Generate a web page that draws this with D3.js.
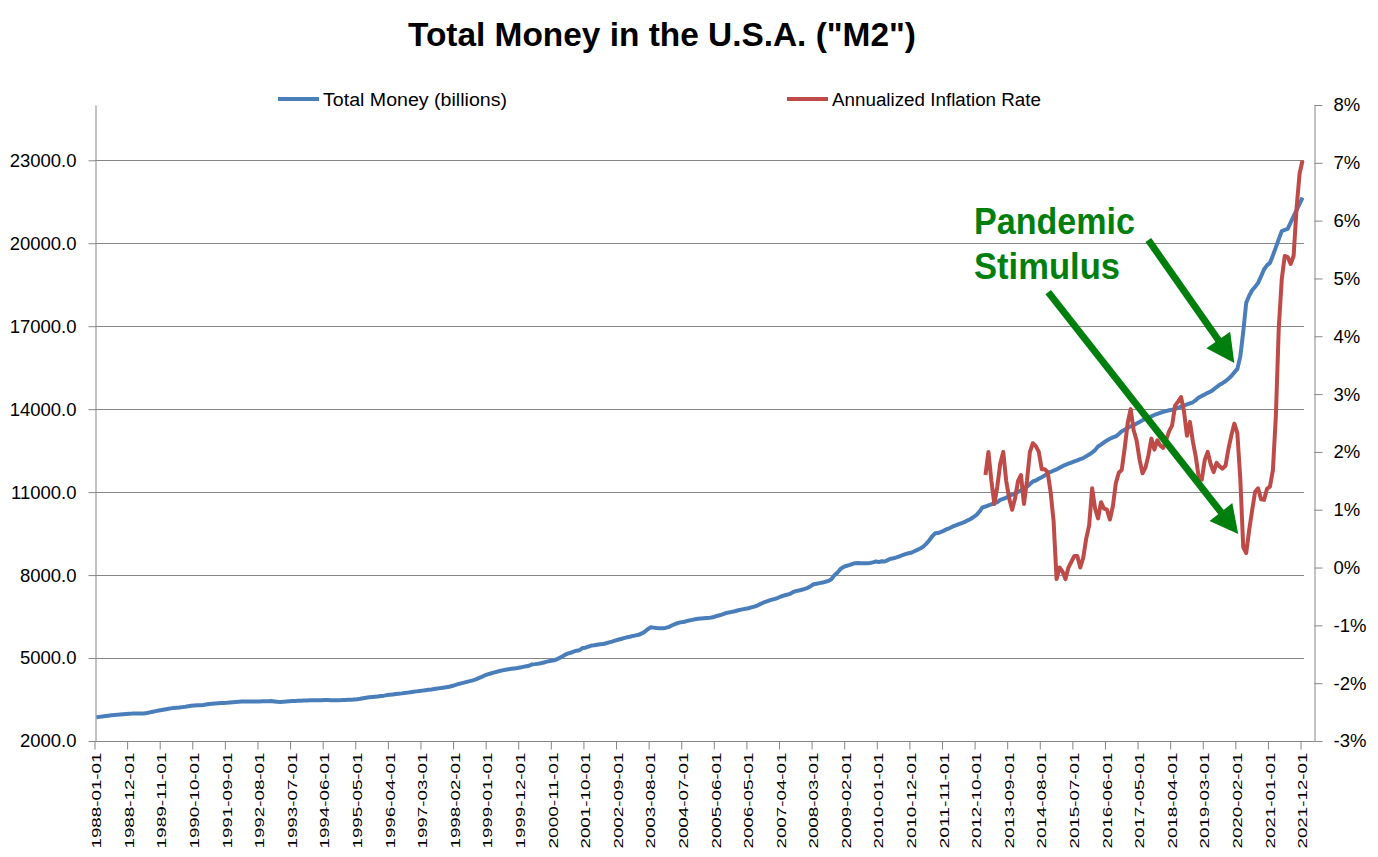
<!DOCTYPE html>
<html>
<head>
<meta charset="utf-8">
<script src="https://cdn.jsdelivr.net/npm/d3@7"></script>
<style>
  body { margin: 0; background: #fff; }
  text { font-family: "Liberation Sans", Arial, sans-serif; fill: #000; }
</style>
</head>
<body>
<div id="chart"></div>
<script>
// monthly categories run from startMonth up to (not incl.) endMonth
var startMonth = "1988-01-01",
    endMonth = "2022-01-01";

var tickLabels = [
  "1988-01-01", "1988-12-01", "1989-11-01", "1990-10-01", "1991-09-01", "1992-08-01",
  "1993-07-01", "1994-06-01", "1995-05-01", "1996-04-01", "1997-03-01", "1998-02-01",
  "1999-01-01", "1999-12-01", "2000-11-01", "2001-10-01", "2002-09-01", "2003-08-01",
  "2004-07-01", "2005-06-01", "2006-05-01", "2007-04-01", "2008-03-01", "2009-02-01",
  "2010-01-01", "2010-12-01", "2011-11-01", "2012-10-01", "2013-09-01", "2014-08-01",
  "2015-07-01", "2016-06-01", "2017-05-01", "2018-04-01", "2019-03-01", "2020-02-01",
  "2021-01-01", "2021-12-01"
];

var moneyTicks = [2000, 5000, 8000, 11000, 14000, 17000, 20000, 23000];
var rateTicks = [-0.03, -0.02, -0.01, 0, 0.01, 0.02, 0.03, 0.04, 0.05, 0.06, 0.07, 0.08];

// Total Money (billions), one row per year, Jan..Dec
var m2 = [
  2858, 2872, 2888, 2902, 2915, 2928, 2940, 2950, 2958, 2966, 2975, 2985,  // 1988
  2990, 2990, 2992, 2995, 2998, 3010, 3035, 3060, 3080, 3100, 3120, 3140,  // 1989
  3160, 3180, 3195, 3205, 3210, 3225, 3240, 3260, 3275, 3285, 3290, 3295,  // 1990
  3305, 3320, 3340, 3350, 3360, 3365, 3372, 3378, 3385, 3395, 3405, 3412,  // 1991
  3420, 3425, 3428, 3430, 3430, 3428, 3430, 3432, 3438, 3440, 3442, 3444,  // 1992
  3430, 3418, 3410, 3415, 3432, 3440, 3445, 3450, 3455, 3460, 3465, 3468,  // 1993
  3470, 3472, 3474, 3476, 3478, 3485, 3482, 3476, 3472, 3474, 3478, 3482,  // 1994
  3486, 3490, 3495, 3502, 3510, 3525, 3545, 3565, 3580, 3590, 3600, 3612,  // 1995
  3625, 3640, 3660, 3672, 3685, 3700, 3712, 3722, 3735, 3750, 3765, 3780,  // 1996
  3795, 3808, 3822, 3838, 3850, 3862, 3878, 3895, 3912, 3928, 3945, 3962,  // 1997
  3990, 4020, 4055, 4085, 4110, 4140, 4165, 4195, 4230, 4275, 4320, 4370,  // 1998
  4410, 4440, 4470, 4500, 4530, 4555, 4575, 4595, 4610, 4625, 4640, 4660,  // 1999
  4680, 4700, 4720, 4770, 4780, 4795, 4815, 4840, 4870, 4890, 4910, 4940,  // 2000
  4990, 5040, 5110, 5160, 5190, 5230, 5265, 5285, 5360, 5375, 5415, 5450,  // 2001
  5460, 5480, 5500, 5505, 5535, 5565, 5595, 5630, 5660, 5690, 5720, 5750,  // 2002
  5770, 5800, 5820, 5840, 5890, 5950, 6040, 6110, 6100, 6085, 6080, 6075,  // 2003
  6090, 6120, 6170, 6220, 6260, 6290, 6300, 6330, 6360, 6380, 6400, 6420,  // 2004
  6430, 6440, 6450, 6460, 6475, 6510, 6540, 6570, 6610, 6640, 6660, 6680,  // 2005
  6710, 6740, 6760, 6780, 6800, 6830, 6860, 6900, 6950, 7000, 7040, 7080,  // 2006
  7110, 7140, 7180, 7225, 7260, 7290, 7320, 7380, 7420, 7440, 7470, 7500,  // 2007
  7540, 7600, 7670, 7690, 7710, 7730, 7760, 7790, 7850, 7990, 8080, 8215,  // 2008
  8290, 8330, 8360, 8400, 8430, 8440, 8430, 8425, 8430, 8440, 8460, 8490,  // 2009
  8470, 8500, 8490, 8540, 8590, 8610, 8640, 8680, 8720, 8760, 8790, 8810,  // 2010
  8860, 8910, 8960, 9030, 9130, 9250, 9400, 9510, 9520, 9560, 9610, 9660,  // 2011
  9700, 9760, 9800, 9840, 9880, 9920, 9980, 10030, 10100, 10180, 10300, 10450,  // 2012
  10480, 10520, 10560, 10600, 10640, 10720, 10760, 10800, 10850, 10910, 10960, 11010,  // 2013
  11060, 11130, 11200, 11290, 11385, 11420, 11480, 11540, 11600, 11690, 11730, 11780,  // 2014
  11820, 11880, 11940, 11990, 12030, 12070, 12110, 12150, 12190, 12230, 12300, 12360,  // 2015
  12430, 12520, 12650, 12720, 12800, 12870, 12930, 12980, 13020, 13100, 13200, 13260,  // 2016
  13320, 13380, 13420, 13480, 13540, 13600, 13650, 13700, 13740, 13790, 13830, 13870,  // 2017
  13900, 13930, 13960, 13980, 14010, 14050, 14090, 14130, 14170, 14210, 14250, 14330,  // 2018
  14420, 14480, 14530, 14590, 14640, 14710, 14800, 14880, 14940, 15010, 15100, 15200,  // 2019
  15330, 15456, 15900, 16800, 17850, 18100, 18300, 18420, 18570, 18800, 19050, 19200,  // 2020
  19290, 19560, 19850, 20150, 20440, 20480, 20520, 20750, 20980, 21200, 21420, 21650   // 2021
];

// Annualized Inflation Rate (%), starts 2013-01
var inflationStart = "2013-01-01";
var inflation = [
  1.6, 2.0, 1.5, 1.1, 1.4, 1.8, 2.0, 1.5, 1.2, 1.0, 1.2, 1.5,            // 2013
  1.6, 1.1, 1.5, 2.0, 2.15, 2.1, 2.0, 1.7, 1.7, 1.65, 1.3, 0.8,          // 2014
  -0.2, 0.0, -0.07, -0.2, 0.0, 0.1, 0.2, 0.2, 0.0, 0.17, 0.5, 0.73,      // 2015
  1.37, 1.02, 0.85, 1.13, 1.02, 1.0, 0.83, 1.06, 1.46, 1.64, 1.69, 2.07, // 2016
  2.5, 2.74, 2.38, 2.2, 1.87, 1.63, 1.73, 1.94, 2.23, 2.04, 2.2, 2.11,   // 2017
  2.07, 2.21, 2.36, 2.46, 2.8, 2.87, 2.95, 2.7, 2.28, 2.52, 2.18, 1.91,  // 2018
  1.55, 1.52, 1.86, 2.0, 1.79, 1.65, 1.81, 1.75, 1.71, 1.76, 2.05, 2.29, // 2019
  2.49, 2.33, 1.54, 0.35, 0.25, 0.65, 0.99, 1.31, 1.37, 1.18, 1.17, 1.36, // 2020
  1.4, 1.68, 2.62, 4.16, 4.99, 5.39, 5.37, 5.25, 5.39, 6.22, 6.81, 7.04  // 2021
];

var seriesNames = ["Total Money (billions)", "Annualized Inflation Rate"];
var seriesColors = ["#4a7ebb", "#be4b48"];

function MoneyChart(){
  var width = 1378, height = 857;
  var margin = {top: 105, right: 1304, bottom: 741, left: 95};
  var gray = "#868686";

  function my(selection){
    selection.each(function(){
      var parseDate = d3.utcParse("%Y-%m-%d"),
          formatDate = d3.utcFormat("%Y-%m-%d");

      var months = d3.utcMonth.range(parseDate(startMonth), parseDate(endMonth)).map(formatDate);
      var firstRate = months.indexOf(inflationStart);

      var moneyData = m2.map(function(v, i){ return {month: months[i], value: v}; });
      var rateData = inflation.map(function(v, i){ return {month: months[firstRate + i], value: v / 100}; });

      var x = d3.scaleBand()
          .domain(months)
          .range([margin.left, margin.right]);
      var bw = x.bandwidth();

      var yMoney = d3.scaleLinear()
          .domain([2000, 25000])
          .range([margin.bottom, margin.top]);

      var yRate = d3.scaleLinear()
          .domain([-0.03, 0.08])
          .range([margin.bottom, margin.top]);

      var svg = d3.select(this).append("svg")
          .attr("width", width)
          .attr("height", height);

      // title
      svg.append("text")
          .attr("x", 662)
          .attr("y", 46)
          .attr("text-anchor", "middle")
          .attr("font-weight", "bold")
          .attr("font-size", 33)
          .attr("textLength", 508)
          .attr("lengthAdjust", "spacingAndGlyphs")
          .text('Total Money in the U.S.A. ("M2")');

      // gridlines
      svg.append("g").selectAll("line")
          .data(moneyTicks.slice(1))
          .enter().append("line")
            .attr("x1", margin.left).attr("x2", margin.right)
            .attr("y1", function(d){ return Math.round(yMoney(d)) + 0.5; })
            .attr("y2", function(d){ return Math.round(yMoney(d)) + 0.5; })
            .attr("stroke", gray);

      // left axis
      var gLeft = svg.append("g")
          .attr("transform", "translate(" + (margin.left + 0.5) + ",0)")
          .call(d3.axisLeft(yMoney).tickValues(moneyTicks).tickFormat(d3.format(".1f")).tickSize(7).tickSizeOuter(0).tickPadding(12));
      gLeft.selectAll("text").attr("font-size", 18.5).attr("font-family", "Liberation Sans, Arial, sans-serif");

      // right axis
      var gRight = svg.append("g")
          .attr("transform", "translate(1314.5,0)")
          .call(d3.axisRight(yRate).tickValues(rateTicks)
            .tickFormat(function(d){ return Math.round(d * 100) + "%"; })
            .tickSize(8).tickSizeOuter(0).tickPadding(11));
      gRight.selectAll("text").attr("font-size", 18.5).attr("font-family", "Liberation Sans, Arial, sans-serif");

      // bottom axis
      var gBottom = svg.append("g")
          .attr("transform", "translate(0," + (margin.bottom + 0.5) + ")")
          .call(d3.axisBottom(x).tickValues(tickLabels).tickSize(8).tickSizeOuter(0));
      gBottom.select(".domain").remove();
      gBottom.append("line")
          .attr("x1", margin.left).attr("x2", 1314.5)
          .attr("stroke", gray);
      gBottom.selectAll(".tick line")
          .attr("transform", "translate(" + (-bw / 2) + ",0)");
      gBottom.selectAll(".tick text")
          .attr("transform", "rotate(-90)")
          .attr("text-anchor", "end")
          .attr("x", -11)
          .attr("y", 0.5)
          .attr("dy", "0.35em")
          .attr("font-size", 12)
          .attr("font-family", "Liberation Sans, Arial, sans-serif")
          .attr("textLength", 96)
          .attr("lengthAdjust", "spacingAndGlyphs");

      svg.selectAll(".domain, .tick line").attr("stroke", gray);

      // series
      var moneyLine = d3.line()
          .x(function(d){ return x(d.month) + bw / 2; })
          .y(function(d){ return yMoney(d.value); });

      var rateLine = d3.line()
          .x(function(d){ return x(d.month) + bw / 2; })
          .y(function(d){ return yRate(d.value); });

      svg.append("path")
          .datum(moneyData)
          .attr("fill", "none")
          .attr("stroke", seriesColors[0])
          .attr("stroke-width", 4)
          .attr("stroke-linejoin", "round")
          .attr("d", moneyLine);

      svg.append("path")
          .datum(rateData)
          .attr("fill", "none")
          .attr("stroke", seriesColors[1])
          .attr("stroke-width", 4)
          .attr("stroke-linejoin", "round")
          .attr("d", rateLine);

      // legend
      var legendX = [278, 787], legendLen = [184, 209];
      var legend = svg.append("g").selectAll("g")
          .data(seriesNames)
          .enter().append("g")
            .attr("transform", function(d, i){ return "translate(" + legendX[i] + ",99)"; });
      legend.append("line")
          .attr("x1", 0).attr("x2", 41)
          .attr("stroke", function(d, i){ return seriesColors[i]; })
          .attr("stroke-width", 4);
      legend.append("text")
          .attr("x", 45)
          .attr("y", 7)
          .attr("font-size", 18)
          .attr("textLength", function(d, i){ return legendLen[i]; })
          .attr("lengthAdjust", "spacingAndGlyphs")
          .text(function(d){ return d; });

      // annotation
      var green = "#007f0e";
      var note = svg.append("g")
          .attr("fill", green);
      note.selectAll("text")
          .data([["Pandemic", 234, 161], ["Stimulus", 279, 146]])
          .enter().append("text")
            .attr("x", 974)
            .attr("y", function(d){ return d[1]; })
            .attr("font-family", "Roboto, sans-serif")
            .attr("font-weight", "bold")
            .attr("font-size", 36)
            .attr("textLength", function(d){ return d[2]; })
            .attr("lengthAdjust", "spacingAndGlyphs")
            .style("fill", green)
            .text(function(d){ return d[0]; });

      // arrows point at the data: the M2 level before the jump and the inflation low
      var iMoney = months.indexOf("2020-02-01"),
          iRate = months.indexOf("2020-05-01");
      var arrows = [
        {tip: [x(months[iMoney]) + bw / 2 - 3, yMoney(m2[iMoney]) - 6], back: [-86, -123]},
        {tip: [x(months[iRate]) + bw / 2 - 8, yRate(inflation[iRate - firstRate] / 100) - 19], back: [-190, -242]}
      ];

      arrows.forEach(function(a){
        var len = Math.sqrt(a.back[0] * a.back[0] + a.back[1] * a.back[1]);
        var ux = -a.back[0] / len, uy = -a.back[1] / len;
        var headLen = 28, headHalf = 14.5;
        var bx = a.tip[0] - ux * headLen, by = a.tip[1] - uy * headLen;
        note.append("line")
            .attr("x1", a.tip[0] + a.back[0]).attr("y1", a.tip[1] + a.back[1])
            .attr("x2", bx + ux * 2).attr("y2", by + uy * 2)
            .attr("stroke", green)
            .attr("stroke-width", 7);
        note.append("polygon")
            .attr("points", [
              [a.tip[0], a.tip[1]],
              [bx - uy * headHalf, by + ux * headHalf],
              [bx + uy * headHalf, by - ux * headHalf]
            ].join(" "));
      });
    });
  }

  my.width = function(value){
    if(!arguments.length) return width;
    width = value;
    return my;
  };

  my.height = function(value){
    if(!arguments.length) return height;
    height = value;
    return my;
  };

  return my;
}

d3.select("#chart").call(MoneyChart());
</script>
</body>
</html>
